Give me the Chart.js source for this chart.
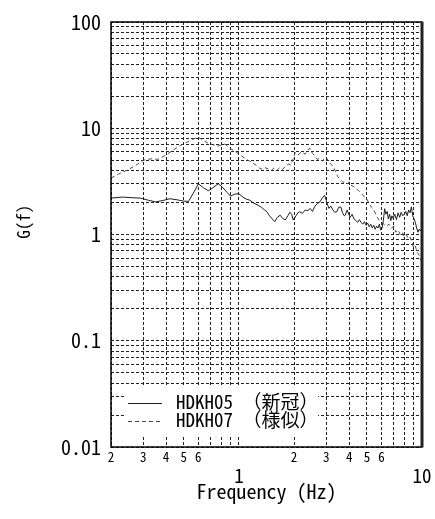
<!DOCTYPE html>
<html>
<head>
<meta charset="utf-8">
<script src="https://cdn.jsdelivr.net/npm/chart.js@4"></script>
<style>
  html, body { margin: 0; padding: 0; background: #fff; }
  #wrap { width: 435px; height: 519px; }
</style>
</head>
<body>
<div id="wrap"><canvas id="c" width="435" height="519"></canvas></div>
<script>
// Spectral ratio G(f) for two stations
const seriesNames = ['HDKH05 （新冠）', 'HDKH07 （様似）'];

const freqA = [0.2, 0.23, 0.26, 0.29, 0.32, 0.35, 0.38, 0.42, 0.46, 0.5, 0.53, 0.56, 0.6, 0.64, 0.68, 0.72, 0.77, 0.81, 0.86, 0.9, 0.95, 1.0,
  1.05, 1.1, 1.15, 1.2, 1.27, 1.33, 1.38, 1.42, 1.47, 1.52, 1.57, 1.62, 1.68, 1.73, 1.79, 1.85, 1.9, 1.94, 1.98, 2.05, 2.1, 2.15, 2.22,
  2.3, 2.38, 2.45, 2.52, 2.6, 2.68, 2.77, 2.85, 2.94, 3.02, 3.1, 3.18, 3.26, 3.34, 3.43, 3.5, 3.6, 3.68, 3.76, 3.81, 3.9, 3.98, 4.05,
  4.15, 4.25, 4.35, 4.45, 4.55, 4.65, 4.75, 4.85, 4.95, 5.05, 5.15, 5.25, 5.35, 5.45, 5.55, 5.65, 5.75, 5.85, 5.95, 6.05, 6.15, 6.25,
  6.35, 6.45, 6.55, 6.65, 6.75, 6.85, 6.95, 7.1, 7.25, 7.4, 7.55, 7.7, 7.85, 8.0, 8.15, 8.3, 8.45, 8.6, 8.75, 8.9, 9.05, 9.2, 9.35,
  9.5, 9.65, 9.8, 10];
const gA = [2.2, 2.25, 2.22, 2.2, 2.1, 2.03, 2.08, 2.17, 2.12, 2.06, 2.05, 2.4, 3.0, 2.75, 2.58, 2.75, 3.0, 2.8, 2.5, 2.3, 2.4, 2.42,
  2.25, 2.15, 2.1, 1.98, 1.89, 1.8, 1.7, 1.64, 1.5, 1.4, 1.32, 1.45, 1.52, 1.42, 1.37, 1.5, 1.62, 1.55, 1.37, 1.5, 1.6, 1.64, 1.58,
  1.7, 1.68, 1.76, 1.65, 1.85, 1.95, 2.03, 2.2, 2.34, 2.0, 1.76, 1.85, 1.7, 1.62, 1.64, 1.8, 1.82, 1.6, 1.5, 1.52, 1.7, 1.55, 1.45,
  1.55, 1.4, 1.35, 1.3, 1.38, 1.3, 1.25, 1.32, 1.22, 1.28, 1.18, 1.25, 1.15, 1.22, 1.12, 1.2, 1.15, 1.25, 1.1, 1.15, 1.35, 1.75,
  1.55, 1.65, 1.4, 1.55, 1.35, 1.5, 1.42, 1.55, 1.38, 1.6, 1.45, 1.62, 1.5, 1.55, 1.65, 1.5, 1.7, 1.6, 1.82, 1.5, 1.4, 1.3, 1.15,
  1.05, 1.12, 1.08, 1.15];

const freqB = [0.2, 0.22, 0.25, 0.28, 0.3, 0.33, 0.36, 0.4, 0.44, 0.48, 0.52, 0.56, 0.6, 0.64, 0.67, 0.72, 0.77, 0.81, 0.84, 0.88, 0.93,
  0.97, 1.03, 1.1, 1.17, 1.25, 1.3, 1.34, 1.39, 1.44, 1.5, 1.55, 1.61, 1.67, 1.73, 1.8, 1.86, 1.92, 1.98, 2.03, 2.1, 2.2, 2.3, 2.38,
  2.45, 2.52, 2.6, 2.68, 2.77, 2.86, 2.94, 3.0, 3.08, 3.17, 3.27, 3.37, 3.47, 3.57, 3.7, 3.8, 3.9, 4.0, 4.1, 4.2, 4.35, 4.5, 4.6,
  4.75, 4.9, 5.0, 5.15, 5.3, 5.4, 5.55, 5.7, 5.85, 6.0, 6.2, 6.4, 6.6, 6.8, 7.0, 7.2, 7.4, 7.6, 7.8, 8.0, 8.2, 8.4, 8.6, 8.8, 9.0,
  9.2, 9.4, 9.6, 9.8, 10];
const gB = [3.4, 3.7, 4.1, 4.6, 5.0, 5.15, 5.1, 5.6, 6.3, 6.9, 7.4, 7.9, 8.2, 7.7, 7.3, 7.0, 6.8, 7.0, 7.1, 6.6, 6.2, 5.9, 5.5, 5.1,
  4.8, 4.45, 4.2, 4.1, 4.25, 4.15, 4.0, 4.2, 4.0, 4.25, 4.1, 4.4, 4.6, 4.5, 5.2, 5.9, 5.6, 6.0, 5.7, 6.3, 6.45, 5.8, 5.5, 5.1, 5.2,
  4.9, 5.3, 5.3, 4.9, 4.6, 4.4, 3.9, 3.5, 3.3, 3.1, 3.15, 3.0, 3.1, 2.9, 2.85, 2.7, 2.6, 2.5, 2.35, 2.2, 2.15, 1.95, 1.8, 1.75, 1.6,
  1.45, 1.35, 1.3, 1.25, 1.2, 1.25, 1.15, 1.2, 1.05, 1.1, 1.0, 1.05, 0.95, 1.0, 0.92, 0.95, 0.85, 0.75, 0.78, 0.68, 0.65, 0.58, 0.62];

// Axis ticks (grid positions) and their printed labels
const xGridTicks = [0.2, 0.3, 0.4, 0.5, 0.6, 0.7, 0.8, 0.9, 1, 2, 3, 4, 5, 6, 7, 8, 9, 10];
const xTickLabels = { '0.2': '2', '0.3': '3', '0.4': '4', '0.5': '5', '0.6': '6', '1': '1',
  '2': '2', '3': '3', '4': '4', '5': '5', '6': '6', '10': '10' };
const xMajorTicks = [1, 10];
const yGridTicks = [0.01, 0.02, 0.03, 0.04, 0.05, 0.06, 0.07, 0.08, 0.09,
  0.1, 0.2, 0.3, 0.4, 0.5, 0.6, 0.7, 0.8, 0.9,
  1, 2, 3, 4, 5, 6, 7, 8, 9,
  10, 20, 30, 40, 50, 60, 70, 80, 90, 100];
const yTickLabels = { '0.01': '0.01', '0.1': '0.1', '1': '1', '10': '10', '100': '100' };

const MONO = '"Noto Sans Mono CJK JP", "DejaVu Sans Mono", monospace';

const toPoints = (xs, ys) => xs.map((x, i) => ({ x, y: ys[i] }));

// White-backed legend box in the lower-left of the plot
const legendBox = {
  id: 'legendBox',
  afterDatasetsDraw(chart) {
    const { ctx, chartArea: a } = chart;
    ctx.save();
    ctx.fillStyle = '#fff';
    ctx.fillRect(a.left + 14, a.bottom - 60, 193, 48);
    ctx.font = '19px ' + MONO;
    ctx.textBaseline = 'middle';
    chart.data.datasets.forEach((ds, i) => {
      const y = a.bottom - 44 + i * 18;
      ctx.strokeStyle = ds.borderColor;
      ctx.lineWidth = 1;
      ctx.setLineDash(ds.borderDash || []);
      ctx.beginPath();
      ctx.moveTo(a.left + 17, y + 0.5);
      ctx.lineTo(a.left + 51, y + 0.5);
      ctx.stroke();
      ctx.setLineDash([]);
      ctx.fillStyle = '#000';
      ctx.fillText(ds.label, a.left + 65, y - 1);
    });
    ctx.restore();
  }
};

// Solid frame around the plot area
const plotFrame = {
  id: 'plotFrame',
  afterDraw(chart) {
    const { ctx, chartArea: a } = chart;
    ctx.save();
    ctx.strokeStyle = '#000';
    ctx.lineWidth = 1.5;
    ctx.beginPath();
    ctx.moveTo(a.right, a.top);
    ctx.lineTo(a.left, a.top);
    ctx.lineTo(a.left, a.bottom);
    ctx.lineTo(a.right, a.bottom);
    ctx.stroke();
    ctx.lineWidth = 3;
    ctx.strokeStyle = '#222';
    ctx.beginPath();
    ctx.moveTo(a.right, a.top - 0.5);
    ctx.lineTo(a.right, a.bottom + 0.5);
    ctx.stroke();
    ctx.restore();
  }
};

new Chart(document.getElementById('c'), {
  type: 'line',
  data: {
    datasets: [
      { label: seriesNames[0], data: toPoints(freqA, gA), borderColor: '#1e1e1e', borderWidth: 1,
        pointRadius: 0, tension: 0 },
      { label: seriesNames[1], data: toPoints(freqB, gB), borderColor: '#474747', borderWidth: 1,
        borderDash: [4, 3], pointRadius: 0, tension: 0 }
    ]
  },
  options: {
    responsive: false,
    animation: false,
    devicePixelRatio: 1,
    layout: { padding: { top: 17, right: 13, left: 0, bottom: 0 } },
    plugins: { legend: { display: false }, tooltip: { enabled: false } },
    scales: {
      x: {
        type: 'logarithmic',
        min: 0.2,
        max: 10,
        afterBuildTicks: (s) => { s.ticks = xGridTicks.map(v => ({ value: v })); },
        afterFit: (s) => { s.height = 72; },
        grid: { color: '#222', lineWidth: 1, drawTicks: false },
        border: { display: false, dash: [3, 2] },
        ticks: {
          autoSkip: false,
          maxRotation: 0,
          minRotation: 0,
          padding: 2,
          color: '#000',
          callback: (v) => {
            const t = xTickLabels[String(v)] || '';
            return xMajorTicks.includes(v) ? ['', t] : t;
          },
          font: (c) => (c.tick && xMajorTicks.includes(c.tick.value))
            ? { family: MONO, size: 19, lineHeight: '18px' }
            : { family: MONO, size: 13 }
        },
        title: {
          display: true,
          text: 'Frequency (Hz)',
          color: '#000',
          font: { family: MONO, size: 20 },
          padding: { top: 0, bottom: 16 }
        }
      },
      y: {
        type: 'logarithmic',
        min: 0.01,
        max: 100,
        afterBuildTicks: (s) => { s.ticks = yGridTicks.map(v => ({ value: v })); },
        afterFit: (s) => { s.width = 111; },
        grid: { color: '#222', lineWidth: 1, drawTicks: false },
        border: { display: false, dash: [3, 2] },
        ticks: {
          autoSkip: false,
          padding: 10,
          color: '#000',
          callback: (v) => yTickLabels[String(v)] || '',
          font: { family: MONO, size: 20 }
        },
        title: {
          display: true,
          text: '   G(f)',
          color: '#000',
          font: { family: MONO, size: 17 },
          padding: { top: 13, bottom: 0 }
        }
      }
    }
  },
  plugins: [legendBox, plotFrame]
});
</script>
</body>
</html>
